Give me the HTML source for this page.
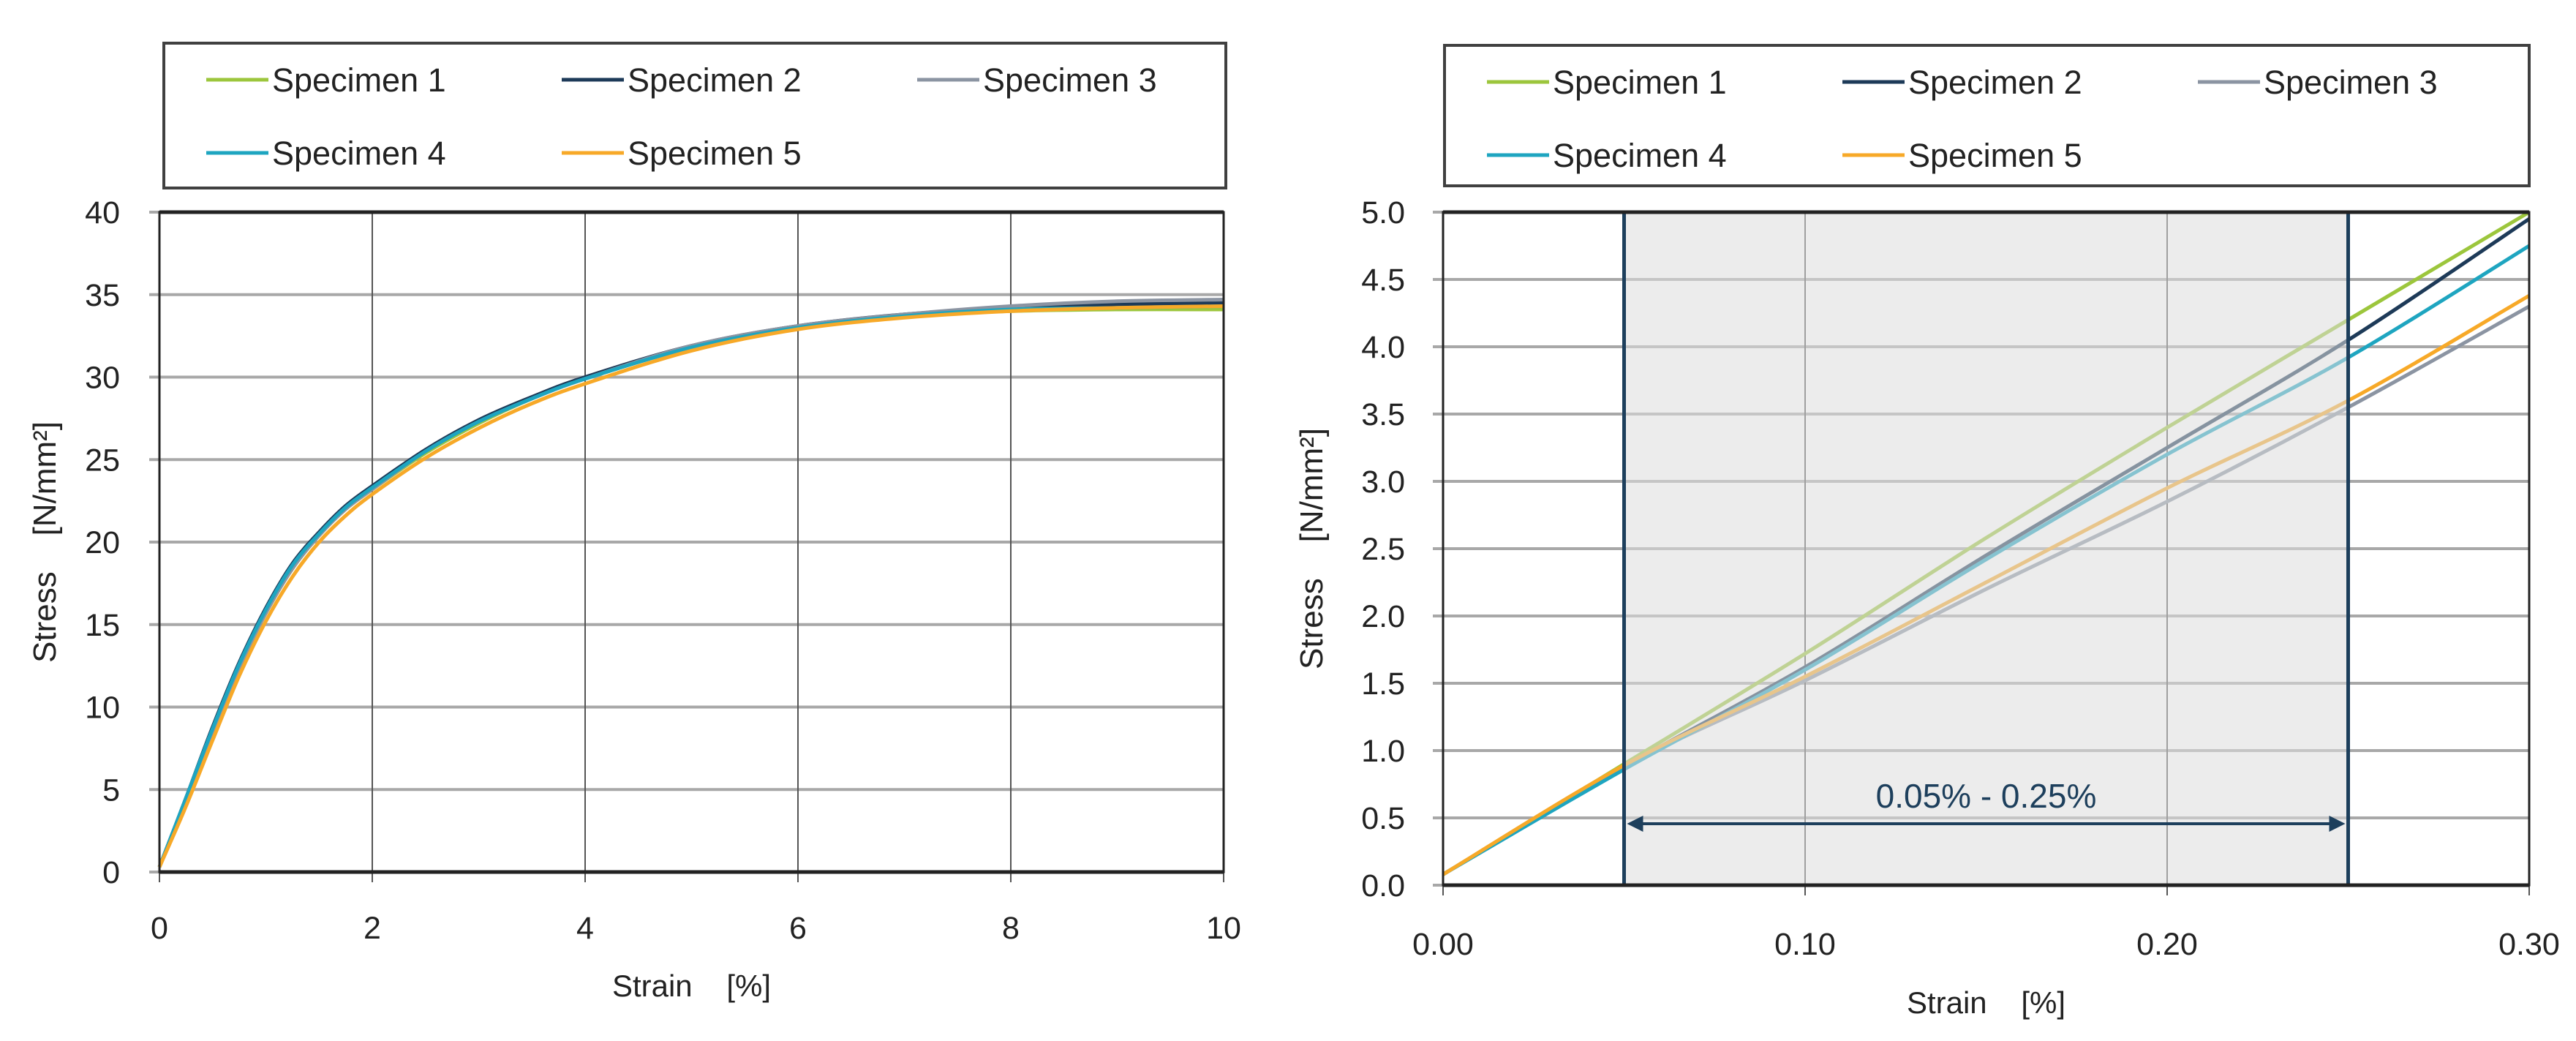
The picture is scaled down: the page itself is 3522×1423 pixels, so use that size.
<!DOCTYPE html>
<html><head><meta charset="utf-8"><style>
html,body{margin:0;padding:0;background:#fff;}
svg{display:block;font-family:"Liberation Sans",sans-serif;}
.pre{white-space:pre;}
</style></head><body>
<svg id="chart" width="3522" height="1423" viewBox="0 0 3522 1423" xmlns="http://www.w3.org/2000/svg"></svg>
<script>
const names = ["Specimen 1","Specimen 2","Specimen 3","Specimen 4","Specimen 5"];
const colors = ["#9cc63c","#1d3a58","#8b94a2","#1ea5c0","#f7a928"];
// Left chart data
const strainL = [0,0.25,0.5,0.75,1,1.25,1.5,1.75,2,2.5,3,3.5,4,5,6,7,8,9,10];
const s1L = [0.3,4.4,8.6,12.4,15.7,18.4,20.4,22.0,23.2,25.4,27.2,28.7,29.9,31.8,33.0,33.7,34.0,34.1,34.1];
const s2L = [0.3,4.5,8.8,12.7,16.0,18.7,20.6,22.2,23.4,25.6,27.4,28.8,30.0,31.9,33.1,33.8,34.2,34.4,34.5];
const s3L = [0.3,4.3,8.5,12.4,15.7,18.4,20.4,22.0,23.2,25.5,27.3,28.7,29.9,31.9,33.1,33.8,34.3,34.6,34.7];
const s4L = [0.3,4.5,8.7,12.6,15.9,18.6,20.5,22.1,23.3,25.5,27.3,28.7,29.9,31.8,33.0,33.7,34.1,34.2,34.3];
const s5L = [0.3,4.0,8.0,11.9,15.2,17.9,20.0,21.6,22.9,25.1,26.9,28.4,29.6,31.6,32.9,33.6,34.0,34.2,34.3];
const xTicksL = [0,2,4,6,8,10];
const yTicksL = [0,5,10,15,20,25,30,35,40];
// Right chart data
const strainR = [0,0.05,0.10,0.15,0.20,0.25,0.30];
const s1R = [0.08,0.90,1.72,2.58,3.40,4.20,5.00];
const s2R = [0.08,0.88,1.62,2.45,3.25,4.05,4.95];
const s3R = [0.08,0.88,1.52,2.20,2.85,3.55,4.30];
const s4R = [0.08,0.86,1.60,2.42,3.20,3.92,4.75];
const s5R = [0.08,0.89,1.55,2.25,2.95,3.60,4.38];
const xTicksR = [0,0.10,0.20,0.30];
const yTicksR = [0,0.5,1.0,1.5,2.0,2.5,3.0,3.5,4.0,4.5,5.0];
const rangeR = [0.05,0.25];

const NS="http://www.w3.org/2000/svg";
const svg=document.getElementById('chart');
function el(tag,attrs,parent,text){const e=document.createElementNS(NS,tag);for(const k in attrs)e.setAttribute(k,attrs[k]);if(text!==undefined)e.textContent=text;(parent||svg).appendChild(e);return e;}

function smoothPath(pts){
  let d='M'+pts[0][0].toFixed(1)+','+pts[0][1].toFixed(1);
  for(let i=0;i<pts.length-1;i++){
    const p0=pts[i-1]||pts[i],p1=pts[i],p2=pts[i+1],p3=pts[i+2]||p2;
    const c1=[p1[0]+(p2[0]-p0[0])/6,p1[1]+(p2[1]-p0[1])/6];
    const c2=[p2[0]-(p3[0]-p1[0])/6,p2[1]-(p3[1]-p1[1])/6];
    d+=` C${c1[0].toFixed(1)},${c1[1].toFixed(1)} ${c2[0].toFixed(1)},${c2[1].toFixed(1)} ${p2[0].toFixed(1)},${p2[1].toFixed(1)}`;
  }
  return d;
}

function drawChart(cfg){
  const g=el('g',{});
  
  
  const X=v=>cfg.x0+(v-cfg.xmin)/(cfg.xmax-cfg.xmin)*(cfg.x1-cfg.x0);
  const Y=v=>cfg.y1-(v-cfg.ymin)/(cfg.ymax-cfg.ymin)*(cfg.y1-cfg.y0);
  const lg=el('g',{},g);
  
  
  el('rect',{x:cfg.lx0,y:cfg.ly0,width:cfg.lx1-cfg.lx0,height:cfg.ly1-cfg.ly0,fill:'#fff',stroke:'#404040','stroke-width':4},lg);
  const colX=[cfg.lx0+58,cfg.lx0+544,cfg.lx0+1030];
  const rowY=[cfg.ly0+50,cfg.ly0+150];
  names.forEach((n,i)=>{
    const e=el('g',{},lg);
    
    
    const cx=colX[i%3], cy=rowY[Math.floor(i/3)];
    el('line',{x1:cx,y1:cy,x2:cx+85,y2:cy,stroke:colors[i],'stroke-width':5},e);
    el('text',{x:cx+90,y:cy+16,'font-size':45,fill:'#222'},e,n);
  });
  cfg.yTicks.forEach(v=>{
    const l=el('line',{x1:cfg.x0-14,x2:cfg.x1,y1:Y(v),y2:Y(v),stroke:'#a8a8a8','stroke-width':4},g);
    
    
    const t=el('text',{x:cfg.x0-cfg.ylabOff,y:Y(v)+15,'font-size':43,'text-anchor':'end',fill:'#222'},g,cfg.yFmt(v));
    
    
  });
  cfg.xTicks.forEach(v=>{
    const l=el('line',{x1:X(v),x2:X(v),y1:cfg.y0,y2:cfg.y1+14,stroke:'#555','stroke-width':2},g);
    
    
    const t=el('text',{x:X(v),y:cfg.xlabY,'font-size':43,'text-anchor':'middle',fill:'#222'},g,cfg.xFmt(v));
    
    
  });
  cfg.series.forEach((s,i)=>{
    const pts=s.map((v,j)=>[X(cfg.xs[j]),Y(v)]);
    const p=el('path',{d:smoothPath(pts),fill:'none',stroke:colors[i],'stroke-width':5,'stroke-linejoin':'round'},g);
    
    
  });
  if(cfg.range){
    const a=X(cfg.range[0]), b=X(cfg.range[1]);
    const r=el('rect',{x:a,y:cfg.y0,width:b-a,height:cfg.y1-cfg.y0,fill:'#dcdcdc','fill-opacity':0.55},g);
    
    
    [a,b].forEach(xx=>{
      const l=el('line',{x1:xx,x2:xx,y1:cfg.y0,y2:cfg.y1,stroke:'#1d3f5c','stroke-width':5},g);
      
      
    });
    const ay=1126;
    const ar=el('g',{},g);
    
    
    el('line',{x1:a+20,x2:b-20,y1:ay,y2:ay,stroke:'#1d3f5c','stroke-width':4},ar);
    el('path',{d:`M${a+4},${ay} L${a+26},${ay-11} L${a+26},${ay+11}Z M${b-4},${ay} L${b-26},${ay-11} L${b-26},${ay+11}Z`,fill:'#1d3f5c'},ar);
    const t=el('text',{x:(a+b)/2,y:ay-22,'font-size':46,'text-anchor':'middle',fill:'#1d3f5c'},g,'0.05% - 0.25%');
    
    
  }
  const fr=el('rect',{x:cfg.x0,y:cfg.y0,width:cfg.x1-cfg.x0,height:cfg.y1-cfg.y0,fill:'none',stroke:'#222','stroke-width':3},g);
  
  
  el('line',{x1:cfg.x0,x2:cfg.x1,y1:cfg.y0,y2:cfg.y0,stroke:'#222','stroke-width':5},g);
  el('line',{x1:cfg.x0,x2:cfg.x1,y1:cfg.y1,y2:cfg.y1,stroke:'#222','stroke-width':5},g);
  const xt=el('text',{x:(cfg.x0+cfg.x1)/2,y:cfg.xtitleY,'font-size':42,'text-anchor':'middle',fill:'#222','class':'pre'},g,'Strain    [%]');
  
  
  const yt=el('text',{x:0,y:0,'font-size':44,'text-anchor':'middle',fill:'#222','class':'pre',transform:`translate(${cfg.ytitleX},${(cfg.y0+cfg.y1)/2}) rotate(-90)`},g,'Stress    [N/mm²]');
  
  
}

drawChart({id:'full-curve-chart',x0:218,x1:1673,y0:290,y1:1192,xmin:0,xmax:10,ymin:0,ymax:40,
  lx0:224,lx1:1676,ly0:59,ly1:257,xs:strainL,series:[s1L,s2L,s3L,s4L,s5L],
  xTicks:xTicksL,yTicks:yTicksL,xFmt:v=>String(v),yFmt:v=>String(v),ylabOff:54,xlabY:1283,xtitleY:1362,ytitleX:76});
drawChart({id:'initial-region-chart',x0:1973,x1:3458,y0:290,y1:1210,xmin:0,xmax:0.30,ymin:0,ymax:5,
  lx0:1975,lx1:3458,ly0:62,ly1:254,xs:strainR,series:[s1R,s2R,s3R,s4R,s5R],range:rangeR,
  xTicks:xTicksR,yTicks:yTicksR,xFmt:v=>v.toFixed(2),yFmt:v=>v.toFixed(1),ylabOff:52,xlabY:1305,xtitleY:1385,ytitleX:1808});
</script>
</body></html>
